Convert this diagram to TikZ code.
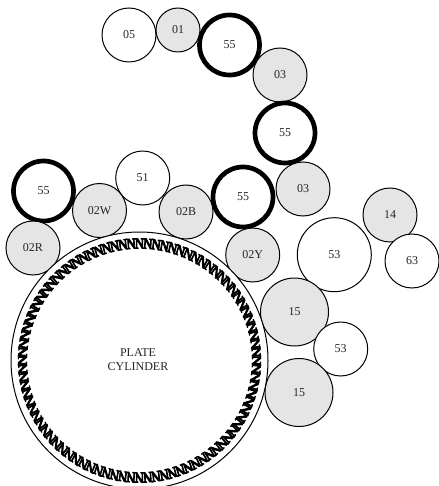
\documentclass[tikz,border=0pt]{standalone}
\usepackage{fontspec}
\usetikzlibrary{calc}
\setmainfont{Liberation Serif}
\newfontfamily\toothfont[FakeBold=7]{Liberation Serif}
\tikzset{
  x=1pt,y=-1pt,
  roll/.style={circle,draw=black,line width=1pt,minimum size=#1,inner sep=0pt,font=\fontsize{12}{14}\selectfont,text=black!85},
  white roll/.style={roll=#1,fill=white},
  grey roll/.style={roll=#1,fill=black!10},
  heavy roll/.style={circle,draw=black,line width=4.7pt,fill=white,minimum size=#1,inner sep=0pt,font=\fontsize{12}{14}\selectfont,text=black!85},
  tooth/.style={inner sep=0pt,xscale=.85,font=\fontsize{15}{16}\toothfont\selectfont}
}
\begin{document}
\begin{tikzpicture}
\useasboundingbox (0,0) rectangle (438,486);
\node[white roll=54pt] (r05) at (129,35) {05};
\node[grey roll=44pt] (r01) at (178,30) {01};
\node[heavy roll=60pt] (h1) at (229.5,45) {55};
\node[grey roll=54pt] (r03a) at (280,75) {03};
\node[heavy roll=60pt] (h2) at (285,133) {55};
\node[grey roll=54pt] (r03b) at (303,189) {03};
\node[heavy roll=60pt] (h3) at (243,197) {55};
\node[white roll=54pt] (r51) at (142.7,178) {51};
\node[grey roll=54pt] (r02b) at (186,212) {02B};
\node[grey roll=54pt] (r02w) at (99.5,210.5) {02W};
\node[heavy roll=60pt] (h4) at (43.5,191) {55};
\node[grey roll=54pt] (r02r) at (33,248) {02R};
\node[grey roll=54pt] (r02y) at (252.7,255) {02Y};
\node[white roll=74pt] (r53a) at (334.3,254.7) {53};
\node[grey roll=54pt] (r14) at (390,215) {14};
\node[white roll=54pt] (r63) at (412,261) {63};
\node[grey roll=68pt] (r15a) at (294.5,312) {15};
\node[white roll=54pt] (r53b) at (340.7,349) {53};
\node[grey roll=68pt] (r15b) at (299,392.5) {15};
\node[circle,draw=black,line width=1pt,fill=white,minimum size=257pt,inner sep=0pt] (plate) at (139.5,360.5) {};
\foreach \i in {0,...,87}{
  \pgfmathsetmacro{\a}{\i*4.0909}
  \node[tooth,rotate=-\a-90] at ($(plate.center)+(\a:117)$) {N};
}
\node[align=center,font=\fontsize{12}{14}\selectfont,text=black!85] (label) at (138,360) {PLATE\\CYLINDER};
\end{tikzpicture}
\end{document}
